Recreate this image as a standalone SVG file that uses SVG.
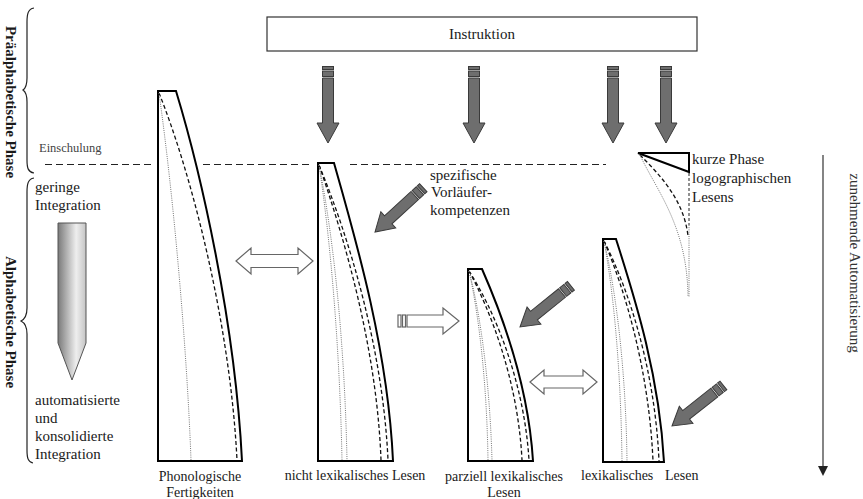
<svg xmlns="http://www.w3.org/2000/svg" width="863" height="499" viewBox="0 0 863 499">
<style>
text{font-family:"Liberation Serif","Times New Roman",serif;fill:#1a1a1a}
.t15{font-size:15px}
.t14{font-size:14px}
.bold{font-weight:bold}
.outline{fill:none;stroke:#000;stroke-width:2;stroke-linejoin:miter}
.dash{fill:none;stroke:#111;stroke-width:1.3;stroke-dasharray:4 2.5}
.dot{fill:none;stroke:#777;stroke-width:1;stroke-dasharray:1 1.2}
.hdash{fill:none;stroke:#222;stroke-width:1.2;stroke-dasharray:7 4}
.brace{fill:none;stroke:#222;stroke-width:1.2}
.garrow{fill:#6e6e6e;stroke:#3a3a3a;stroke-width:1}
.warrow{fill:#fff;stroke:#666;stroke-width:1.2}
</style>
<defs>
<linearGradient id="grad" x1="0" y1="0" x2="1" y2="0">
<stop offset="0" stop-color="#7a7a7a"/>
<stop offset="0.65" stop-color="#eeeeee"/>
<stop offset="1" stop-color="#c4c4c4"/>
</linearGradient>
<g id="downArrow" class="garrow">
<path d="M-5.5,-65 L5.5,-65 L5.5,-20 L11,-20 L0,0 L-11,-20 L-5.5,-20 Z"/>
<rect x="-5.5" y="-72" width="11" height="5.5"/>
<rect x="-5.5" y="-76.5" width="11" height="3"/>
</g>
<g id="diagArrow" class="garrow">
<path d="M-5.5,-54 L5.5,-54 L5.5,-18 L11,-18 L0,0 L-11,-18 L-5.5,-18 Z"/>
<rect x="-5.5" y="-61" width="11" height="5.5"/>
<rect x="-5.5" y="-65.5" width="11" height="3"/>
</g>
</defs>

<!-- left phase labels -->
<g id="phase-labels">
<path class="brace" d="M34,8 C28,9 27,14 27,22 L27,78 C27,85 26,88 23,90 C26,92 27,95 27,102 L27,160 C27,168 28,172 34,173"/>
<path class="brace" d="M34,178 C28,179 27,184 27,192 L27,308 C27,315 25,319 21,321 C25,323 27,327 27,334 L27,450 C27,458 28,462 33,463"/>
<text class="t15 bold" transform="translate(6,102) rotate(90)" text-anchor="middle">Präalphabetische Phase</text>
<text class="t15 bold" transform="translate(6,322) rotate(90)" text-anchor="middle">Alphabetische Phase</text>
<text x="39" y="152" style="font-size:12.5px;fill:#444">Einschulung</text>
</g>

<!-- Einschulung line -->
<g id="einschulung-line">
<line class="hdash" x1="45" y1="164.5" x2="153" y2="164.5"/>
<line class="hdash" x1="203" y1="164.5" x2="312" y2="164.5"/>
<line class="hdash" x1="350" y1="164.5" x2="606" y2="164.5"/>
</g>

<!-- integration -->
<g id="integration">
<text class="t15" x="35" y="192">geringe</text>
<text class="t15" x="35" y="210">Integration</text>
<polygon points="58,223 86,223 86,343 72,380 58,343" fill="url(#grad)" stroke="#555" stroke-width="1"/>
<text class="t15" x="35" y="405">automatisierte</text>
<text class="t15" x="35" y="423">und</text>
<text class="t15" x="35" y="441">konsolidierte</text>
<text class="t15" x="35" y="459">Integration</text>
</g>

<!-- Instruktion -->
<g id="instruktion">
<rect x="267" y="17" width="430" height="34" fill="#fff" stroke="#333" stroke-width="1.2"/>
<text class="t15" x="482" y="39" text-anchor="middle">Instruktion</text>
</g>

<!-- Phonologische Fertigkeiten -->
<g id="phonologische">
<path class="outline" d="M158,461 L158,91 L176,91 C200,170 235,320 242,461 Z"/>
<path class="dash" d="M159,93 C190,170 230,320 237,460"/>
<path class="dot" d="M159,93 C174,200 187,350 191,460"/>
<text class="t14" x="200" y="481" text-anchor="middle">Phonologische</text>
<text class="t14" x="200" y="497" text-anchor="middle">Fertigkeiten</text>
</g>

<!-- nicht lexikalisches Lesen -->
<g id="nicht-lexikalisch">
<path class="outline" d="M318,461 L318,163 L334,163 C356,240 388,350 393,461 Z"/>
<path class="dash" d="M319,165 C345,240 377,350 381,460"/>
<path class="dash" d="M319,165 C350,240 383,350 388,460"/>
<path class="dot" d="M319,165 C332,250 340,360 342,460"/>
<path class="dot" d="M319,165 C336,250 345,360 347,460"/>
<text class="t14" x="355" y="480" text-anchor="middle">nicht lexikalisches Lesen</text>
</g>

<!-- parziell lexikalisches Lesen -->
<g id="parziell-lexikalisch">
<path class="outline" d="M468,461 L468,269 L482,269 C500,310 528,380 533,461 Z"/>
<path class="dash" d="M469,271 C490,310 518,380 522,460"/>
<path class="dash" d="M469,271 C494,310 524,380 529,460"/>
<path class="dot" d="M469,271 C480,320 487,390 488,460"/>
<path class="dot" d="M469,271 C482,320 490,390 492,460"/>
<text class="t14" x="504" y="481" text-anchor="middle">parziell lexikalisches</text>
<text class="t14" x="504" y="497" text-anchor="middle">Lesen</text>
</g>

<!-- lexikalisches Lesen -->
<g id="lexikalisch">
<path class="outline" d="M603,462 L603,239 L616,239 C632,290 659,370 664,462 Z"/>
<path class="dash" d="M604,241 C625,290 649,370 653,461"/>
<path class="dash" d="M604,241 C629,290 655,370 659,461"/>
<path class="dot" d="M604,241 C615,300 621,380 622,461"/>
<path class="dot" d="M604,241 C618,300 626,380 627,461"/>
<text class="t14" y="480"><tspan x="581">lexikalisches</tspan><tspan x="665">Lesen</tspan></text>
</g>

<!-- logographisches Lesen -->
<g id="logographisch">
<path class="outline" d="M638,153 L689,153 L689,172 Z" stroke-width="1.8"/>
<line x1="689" y1="173" x2="689" y2="225" stroke="#222" stroke-width="1" stroke-dasharray="3 2"/>
<line x1="689" y1="225" x2="689" y2="297" stroke="#777" stroke-width="1" stroke-dasharray="1 1.2"/>
<path class="dash" d="M640,155 C660,175 684,200 688,236"/>
<path class="dot" d="M640,155 C656,190 687,225 688,296"/>
<text class="t15" x="692" y="164">kurze Phase</text>
<text class="t15" x="692" y="183">logographischen</text>
<text class="t15" x="692" y="202">Lesens</text>
</g>

<!-- Vorläuferkompetenzen label -->
<g id="vorlaeufer">
<text class="t15" x="430" y="180">spezifische</text>
<text class="t15" x="431" y="197">Vorläufer-</text>
<text class="t15" x="430" y="215">kompetenzen</text>
</g>

<!-- Automatisierung -->
<g id="automatisierung">
<line x1="823" y1="155" x2="823" y2="467" stroke="#333" stroke-width="1.2"/>
<polygon points="818,466 828,466 823,476" fill="#222"/>
<text class="t15" transform="translate(850,263) rotate(90)" text-anchor="middle" style="fill:#333">zunehmende Automatisierung</text>
</g>

<!-- connectors -->
<g id="connectors">
<use href="#downArrow" transform="translate(328,143)"/>
<use href="#downArrow" transform="translate(474,143)"/>
<use href="#downArrow" transform="translate(613,143)"/>
<use href="#downArrow" transform="translate(666,143)"/>
<use href="#diagArrow" transform="translate(375,232) rotate(47.5)"/>
<use href="#diagArrow" transform="translate(520,327) rotate(51)"/>
<use href="#diagArrow" transform="translate(672,426) rotate(51.7)"/>
<path class="warrow" d="M236,261 L251,248 L251,254.5 L298,254.5 L298,248 L313,261 L298,274 L298,267.5 L251,267.5 L251,274 Z"/>
<path class="warrow" d="M530,382 L544,370 L544,376 L583,376 L583,370 L597,382 L583,394 L583,388 L544,388 L544,394 Z"/>
<path class="warrow" d="M407,315 L443,315 L443,308 L459,321 L443,334 L443,327 L407,327 Z"/>
<rect class="warrow" x="398" y="315" width="3" height="12"/>
<rect class="warrow" x="402.5" y="315" width="3" height="12"/>
</g>
</svg>
